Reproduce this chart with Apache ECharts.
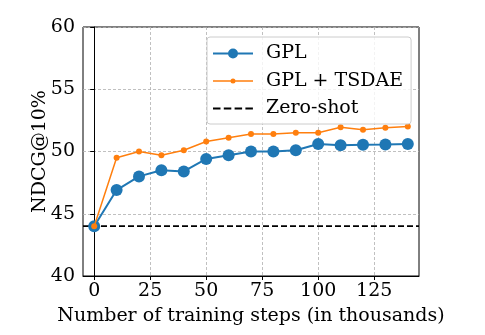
<!DOCTYPE html>
<html>
<head>
<meta charset="utf-8">
<script src="https://cdn.jsdelivr.net/npm/echarts@6/dist/echarts.min.js"></script>
<style>
  html, body { margin: 0; padding: 0; background: #fff; }
  #chart { width: 485px; height: 335px; }
</style>
</head>
<body>
<div id="chart"></div>
<script>
// Training steps (thousands) and NDCG@10 scores
const steps = [0, 10, 20, 30, 40, 50, 60, 70, 80, 90, 100, 110, 120, 130, 140];
const gpl = [44.0, 46.9, 48.0, 48.5, 48.4, 49.4, 49.7, 50.0, 50.0, 50.1, 50.6, 50.5, 50.55, 50.57, 50.6];
const gplTsdae = [44.0, 49.5, 50.0, 49.7, 50.1, 50.8, 51.1, 51.4, 51.4, 51.5, 51.5, 51.95, 51.75, 51.9, 52.0];
const zeroShot = 44.0;
const xTicks = [0, 25, 50, 75, 100, 125];
const yTicks = [40, 45, 50, 55, 60];
const xRange = [-5, 145];

const font = 'DejaVu Serif';
const fs = 19;

// Legend handles drawn as paths on a 40x10 box: line with marker, or dashed line.
// Tiny corner squares pin the path's bounding box so it is not stretched.
const corners = 'M0,0h0.01v0.01h-0.01z M39.99,9.99h0.01v0.01h-0.01z';
const handleLineDot = (lineW, r) =>
  'path://' + corners +
  ` M0,${5 - lineW / 2}h40v${lineW}h-40z` +
  ` M${20 - r},5a${r},${r} 0 1,1 ${2 * r},0a${r},${r} 0 1,1 ${-2 * r},0z`;
const handleDashed = 'path://' + corners +
  ' M0,4.1h7.5v1.8h-7.5z M10.8,4.1h7.5v1.8h-7.5z M21.6,4.1h7.5v1.8h-7.5z M32.4,4.1h7.5v1.8h-7.5z';

const chart = echarts.init(document.getElementById('chart'), null, { renderer: 'canvas' });

const pairs = (ys) => steps.map((s, i) => [s, ys[i]]);

chart.setOption({
  animation: false,
  backgroundColor: '#fff',
  grid: {
    left: 83, right: 66, top: 27, bottom: 59,
    show: true, borderColor: '#000', borderWidth: 1, backgroundColor: 'transparent'
  },
  legend: {
    orient: 'vertical',
    left: 207, top: 37,
    padding: [6, 8, 5, 6],
    itemWidth: 40, itemHeight: 10, itemGap: 6.5,
    backgroundColor: 'rgba(255,255,255,0.8)',
    borderColor: '#cccccc', borderWidth: 1, borderRadius: 3,
    textStyle: { fontFamily: font, fontSize: fs, color: '#000', padding: [0, 0, 0, 8], lineHeight: 21 },
    data: [
      { name: 'GPL', icon: handleLineDot(2, 5), itemStyle: { color: '#1f77b4' } },
      { name: 'GPL + TSDAE', icon: handleLineDot(1.5, 2.5), itemStyle: { color: '#ff7f0e' } },
      { name: 'Zero-shot', icon: handleDashed, itemStyle: { color: '#000' } }
    ]
  },
  xAxis: {
    type: 'value', min: xRange[0], max: xRange[1],
    name: 'Number of training steps (in thousands)',
    nameLocation: 'middle', nameGap: 31, nameMoveOverlap: false,
    nameTextStyle: { fontFamily: font, fontSize: fs, color: '#000' },
    axisLine: { show: true, lineStyle: { color: '#000', width: 1 } },
    axisTick: { show: true, length: 4, customValues: xTicks, lineStyle: { color: '#000' } },
    axisLabel: { customValues: xTicks, fontFamily: font, fontSize: fs, color: '#000', margin: 6 },
    splitLine: { show: true, lineStyle: { color: '#b0b0b0', type: [3, 2], width: 0.8 } }
  },
  yAxis: {
    type: 'value', min: 40, max: 60, interval: 5,
    name: 'NDCG@10%',
    nameLocation: 'middle', nameGap: 33, nameMoveOverlap: false,
    nameTextStyle: { fontFamily: font, fontSize: fs, color: '#000' },
    axisLine: { show: true, lineStyle: { color: '#000', width: 1 } },
    axisTick: { show: true, length: 4, lineStyle: { color: '#000' } },
    axisLabel: { fontFamily: font, fontSize: fs, color: '#000', margin: 8 },
    splitLine: { show: true, lineStyle: { color: '#b0b0b0', type: [3, 2], width: 0.8 } }
  },
  series: [
    {
      name: 'Zero-shot', type: 'line',
      data: [[xRange[0], zeroShot], [xRange[1], zeroShot]],
      symbol: 'none', z: 1,
      lineStyle: { color: '#000', width: 1.8, type: [6, 3] },
      itemStyle: { color: '#000' }
    },
    {
      name: 'GPL', type: 'line', data: pairs(gpl),
      symbol: 'circle', symbolSize: 12, z: 2,
      lineStyle: { color: '#1f77b4', width: 2 },
      itemStyle: { color: '#1f77b4' }
    },
    {
      name: 'GPL + TSDAE', type: 'line', data: pairs(gplTsdae),
      symbol: 'circle', symbolSize: 6, z: 3,
      lineStyle: { color: '#ff7f0e', width: 1.5 },
      itemStyle: { color: '#ff7f0e' }
    }
  ]
});
</script>
</body>
</html>
